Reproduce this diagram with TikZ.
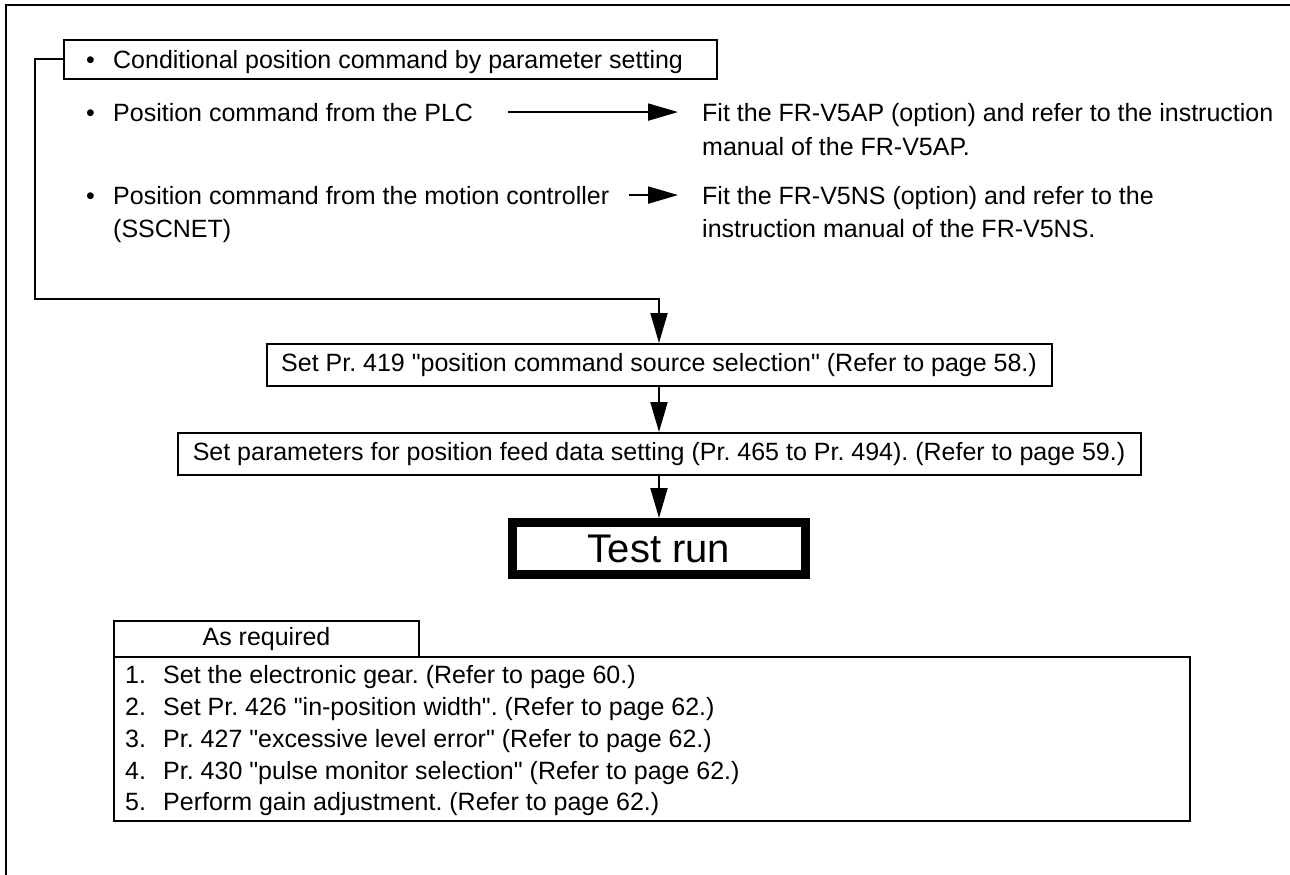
\documentclass[tikz,border=0pt]{standalone}
\usepackage{fontspec}
\setmainfont{Liberation Sans}
\newfontfamily\plainf{Liberation Sans}
\usetikzlibrary{arrows.meta}
\frenchspacing
\begin{document}
\begin{tikzpicture}[x=1pt,y=-1pt,
  every node/.style={inner sep=0pt, font=\plainf\fontsize{25}{30}\selectfont},
  box/.style={draw, line width=2pt, minimum height=42pt},
  txt/.style={anchor=base west},
  arr/.style={line width=2pt, -{Triangle[length=30pt,width=17pt]}},
  frame/.style={line width=2.4pt}]
\useasboundingbox (0,0) rectangle (1290,875);
% outer frame (top and left sides only)
\draw[frame] (1290,5) -- (6,5) -- (6,875);

% top box
\node[box, minimum width=653pt, minimum height=39pt] (cond) at (390.5,59.5) {};
\node[txt] (condtxt) at (86,68) {\makebox[27pt][l]{•}Conditional position command by parameter setting};

% PLC line
\node[txt] (plc) at (86,121) {\makebox[27pt][l]{•}Position command from the PLC};
\node[txt] (fit1a) at (702,121) {Fit the FR-V5AP (option) and refer to the instruction};
\node[txt] (fit1b) at (702,155) {manual of the FR-V5AP.};

% motion controller line
\node[txt] (motion) at (86,204) {\makebox[27pt][l]{•}Position command from the motion controller};
\node[txt] (ssc) at (113,237) {(SSCNET)};
\node[txt] (fit2a) at (702,204) {Fit the FR-V5NS (option) and refer to the};
\node[txt] (fit2b) at (702,237) {instruction manual of the FR-V5NS.};

% main flow boxes
\node[box, minimum width=785pt] (pr419) at (659,365) {Set Pr. 419 "position command source selection" (Refer to page 58.)};
\node[box, minimum width=963pt] (feed) at (659,454) {Set parameters for position feed data setting (Pr. 465 to Pr. 494). (Refer to page 59.)};
\node[draw, line width=9pt, minimum width=293pt, minimum height=52pt,
      font=\plainf\fontsize{40}{48}\selectfont] (test) at (659,548.5) {Test run};

% as required
\node[box, minimum width=305pt, minimum height=36pt] (asreq) at (266.5,639) {As required};
\node[draw, line width=2pt, minimum width=1076pt, minimum height=164pt] (list) at (652,739) {};
\node[txt] (i1) at (125,683) {\makebox[38pt][l]{1.}Set the electronic gear. (Refer to page 60.)};
\node[txt] (i2) at (125,715) {\makebox[38pt][l]{2.}Set Pr. 426 "in-position width". (Refer to page 62.)};
\node[txt] (i3) at (125,747) {\makebox[38pt][l]{3.}Pr. 427 "excessive level error" (Refer to page 62.)};
\node[txt] (i4) at (125,779) {\makebox[38pt][l]{4.}Pr. 430 "pulse monitor selection" (Refer to page 62.)};
\node[txt] (i5) at (125,810) {\makebox[38pt][l]{5.}Perform gain adjustment. (Refer to page 62.)};

% connectors
\coordinate (bl) at (35,299);
\draw[arr] (cond.west) -| (bl) -| (pr419.north);
\draw[arr] (pr419.south) -- (feed.north);
\draw[arr] (feed.south) -- (test.north);
\draw[arr] ([xshift=35pt]plc.east) -- ([xshift=-24pt]fit1a.west |- plc.east);
\draw[arr] ([xshift=20pt]motion.east) -- ([xshift=-24pt]fit2a.west |- motion.east);
\end{tikzpicture}
\end{document}
